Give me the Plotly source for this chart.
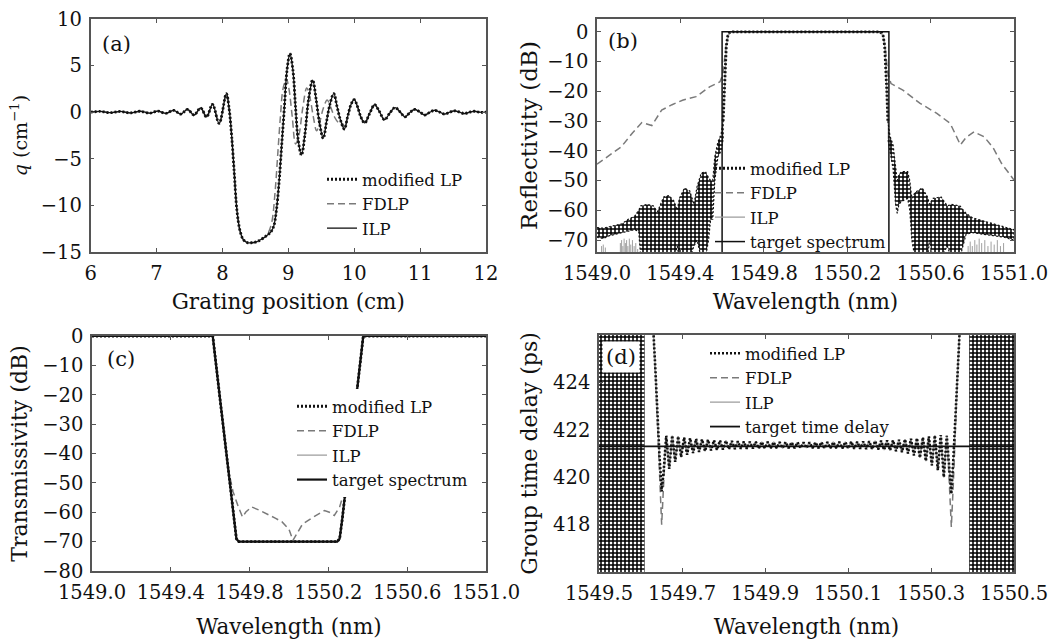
import numpy as np
import plotly.graph_objects as go

W, H = 1053, 639
FONT = "DejaVu Serif"

# ---------------- (a) coupling coefficient q(z) ----------------
qa_z = [6.0, 6.15, 6.3, 6.45, 6.6, 6.75, 6.9, 7.02, 7.14, 7.26, 7.37, 7.47, 7.57, 7.67, 7.76, 7.85, 7.95,
        8.06, 8.10, 8.14, 8.18, 8.22, 8.27, 8.32, 8.38, 8.45, 8.52, 8.60, 8.68, 8.74, 8.78, 8.82, 8.86,
        8.90, 8.94, 8.98, 9.025, 9.07, 9.11, 9.15, 9.20, 9.25, 9.31, 9.37, 9.42, 9.47, 9.53, 9.58, 9.63,
        9.69, 9.74, 9.79, 9.85, 9.90, 9.95, 10.0, 10.05, 10.10, 10.16, 10.23, 10.31, 10.38, 10.46, 10.54,
        10.62, 10.70, 10.77, 10.85, 10.92, 11.0, 11.07, 11.15, 11.22, 11.30, 11.37, 11.45, 11.52, 11.60,
        11.67, 11.75, 11.82, 11.90, 12.0]
qa_ilp = [0.0, 0.08, -0.05, 0.08, -0.08, 0.1, -0.1, 0.12, -0.12, 0.2, -0.2, 0.3, -0.3, 0.45, -0.5, 0.85, -1.2,
          2.0, 0.5, -2.5, -6.5, -10.5, -12.8, -13.7, -14.0, -14.0, -13.9, -13.6, -13.2, -12.8, -12.2, -10.5, -7.5,
          -3.5, 0.5, 4.5, 6.3, 4.5, 0.5, -3.0, -4.6, -2.5, 1.5, 3.45, 1.5, -1.0, -2.8, -1.0, 0.8,
          2.0, 0.6, -0.8, -1.8, -0.5, 0.8, 1.35, 0.6, -0.5, -1.15, -0.2, 0.8, 0.1, -0.8, -0.1,
          0.5, 0.0, -0.5, 0.0, 0.3, 0.0, -0.3, 0.0, 0.2, 0.0, -0.2, 0.0, 0.15, 0.0,
          -0.15, 0.0, 0.1, 0.0, 0.0]
# FDLP deviates from the others between 8.7 and 9.9 cm
qa_fdlp_mid_z = [8.70, 8.75, 8.80, 8.84, 8.88, 8.92, 8.97, 9.01, 9.06, 9.11, 9.16, 9.22, 9.28, 9.33, 9.38, 9.43,
                 9.48, 9.53, 9.59, 9.64, 9.70, 9.76, 9.82]
qa_fdlp_mid_q = [-12.9, -11.8, -8.5, -4.5, -0.5, 2.5, 3.6, 2.5, -0.5, -3.4, -2.5, 0.5, 2.6, 1.5, -0.5, -2.0,
                 -1.0, 0.4, 1.3, 0.6, -0.5, -1.1, -1.2]

# ---------------- (b) reflectivity ----------------
rb_band_wl = [1549.605, 1549.610, 1549.615, 1549.620, 1549.627, 1549.635, 1549.650, 1550.000,
              1550.350, 1550.365, 1550.373, 1550.380, 1550.385, 1550.390, 1550.395]
rb_band_db = [-30, -20, -11, -5, -1.5, -0.3, 0, 0, 0, -0.3, -1.5, -5, -11, -20, -30]
rb_left_wl = [1549.000, 1549.030, 1549.060, 1549.090, 1549.120, 1549.150, 1549.180, 1549.200, 1549.210,
              1549.240, 1549.270, 1549.290, 1549.300, 1549.320, 1549.345, 1549.370, 1549.385, 1549.395,
              1549.420, 1549.445, 1549.465, 1549.480, 1549.500, 1549.520, 1549.535, 1549.545, 1549.555,
              1549.565, 1549.580, 1549.595, 1549.605]
rb_left_up = [-65.8, -66.0, -65.5, -65.0, -64.5, -63.0, -62.0, -60.0, -58.5,
              -58.0, -58.5, -60.5, -59.0, -55.5, -55.0, -57.0, -60.0, -56.0,
              -52.5, -53.5, -58.0, -52.0, -47.5, -47.0, -49.0, -50.0, -50.0,
              -42.0, -37.0, -34.5, -30.0]
rb_left_lo = [-69.0, -69.5, -68.5, -68.0, -67.5, -67.0, -66.5, -67.0, -76,
              -76, -76, -76, -76, -76, -76, -76, -72, -76,
              -76, -76, -72, -70, -76, -76, -70, -63, -63,
              -50, -42, -40, -36]
rb_right_wl = [1550.395, 1550.405, 1550.420, 1550.432, 1550.440, 1550.448, 1550.460, 1550.490, 1550.500,
               1550.510, 1550.525, 1550.560, 1550.585, 1550.595, 1550.610, 1550.650, 1550.680, 1550.700,
               1550.740, 1550.770, 1550.800, 1550.850, 1550.900, 1550.950, 1551.000]
rb_right_up = [-30, -35, -38, -45, -50, -48, -47, -47, -50,
               -56, -54, -52.5, -55.5, -58, -56, -55.5, -58.5, -58,
               -58.5, -61, -62.5, -63.5, -64.5, -65.5, -66.5]
rb_right_lo = [-36, -40, -46, -58, -61, -58, -57, -56, -60,
               -70, -76, -76, -76, -70, -76, -76, -72, -76,
               -76, -68, -67.5, -68, -68.5, -69, -70]
rb_ilp_spike_wl = [1549.022, 1549.030, 1549.040, 1549.112, 1549.118, 1549.124, 1549.130, 1549.136,
                   1549.142, 1549.148, 1549.155, 1549.162, 1549.170, 1549.178, 1549.186, 1549.195,
                   1550.780, 1550.790, 1550.800, 1550.812, 1550.822, 1550.833, 1550.845, 1550.860,
                   1550.875, 1550.890, 1550.905, 1550.920, 1550.935, 1550.950]
rb_ilp_spike_top = [-72, -71.5, -72.5, -71, -70, -72, -69.5, -71, -70, -72, -69.5, -71.5, -70, -72, -71, -73,
                    -72, -70.5, -72, -70, -71.5, -69.5, -71, -70, -72, -70.5, -71.5, -70, -72, -71]
rb_fdlp_wl = [1549.0, 1549.06, 1549.117, 1549.17, 1549.215, 1549.263, 1549.31, 1549.36, 1549.41, 1549.475,
              1549.54, 1549.59, 1549.605, 1549.612, 1549.62, 1549.63, 1549.65, 1550.35, 1550.37, 1550.38,
              1550.388, 1550.395, 1550.41, 1550.467, 1550.548, 1550.63, 1550.694, 1550.72, 1550.743,
              1550.77, 1550.808, 1550.857, 1550.90, 1550.94, 1551.0]
rb_fdlp_db = [-44.5, -41.5, -38.6, -34.0, -30.5, -31.5, -26.3, -24.5, -23.0, -21.8,
              -18.5, -16.8, -14.0, -9.0, -4.0, -1.0, 0.0, 0.0, -1.0, -4.0,
              -9.0, -14.0, -17.4, -19.6, -24.0, -27.4, -30.8, -34.5, -38.0,
              -35.5, -33.6, -35.3, -39.0, -44.2, -49.8]
rb_target_wl = [1549.6, 1549.6, 1550.4, 1550.4]
rb_target_db = [-80, 0, 0, -80]

# ---------------- (c) transmissivity ----------------
tc_wl = [1549.0, 1549.613, 1549.65, 1549.69, 1549.72, 1549.733, 1549.745, 1549.8, 1549.9, 1550.0, 1550.1,
         1550.2, 1550.245, 1550.257, 1550.27, 1550.30, 1550.34, 1550.377, 1551.0]
tc_db = [0, 0, -21.5, -44.5, -61.5, -69, -70, -70, -70, -70, -70, -70, -70, -69, -62.5, -45, -21.5, 0, 0]
tc_fdlp_wl = [1549.0, 1549.613, 1549.65, 1549.69, 1549.70, 1549.716, 1549.742, 1549.764, 1549.781, 1549.81,
              1549.85, 1549.888, 1549.93, 1549.965, 1550.0, 1550.02, 1550.04, 1550.068, 1550.11, 1550.15,
              1550.18, 1550.205, 1550.23, 1550.257, 1550.282, 1550.30, 1550.34, 1550.377, 1551.0]
tc_fdlp_db = [0, 0, -21.5, -44.5, -48, -53, -58, -61.6, -59.9, -58.2,
              -59.3, -60.5, -62, -63.3, -65.8, -69.6, -67.3, -64.1, -62.2, -60.5,
              -59.4, -60, -61.1, -58.2, -52.6, -45, -21.5, 0, 0]

# ---------------- (d) group time delay ----------------
gd_target_ps = 421.3
gd_left_wl = [1549.620, 1549.630, 1549.636, 1549.641, 1549.646, 1549.651, 1549.656]
gd_left_mlp = [428.0, 426.5, 424.5, 422.5, 420.8, 419.4, 420.3]
gd_left_fdlp = [428.0, 426.5, 424.3, 422.0, 419.8, 418.0, 419.8]
gd_ripple_start, gd_ripple_end = 1549.662, 1550.338
gd_ripple_peaks = [421.75, 421.76, 421.72, 421.68, 421.65, 421.62, 421.60, 421.58, 421.56, 421.55, 421.54, 421.53,
                   421.52, 421.51, 421.50, 421.50, 421.49, 421.49, 421.48, 421.48, 421.48, 421.47, 421.47, 421.47,
                   421.47, 421.47, 421.48, 421.48, 421.48, 421.49, 421.49, 421.50, 421.50, 421.51, 421.52, 421.53,
                   421.54, 421.55, 421.56, 421.58, 421.60, 421.62, 421.65, 421.68, 421.72, 421.76, 421.78, 421.75]
gd_ripple_troughs = [420.35, 420.65, 420.85, 420.95, 421.02, 421.07, 421.10, 421.13, 421.15, 421.17, 421.18, 421.19,
                     421.20, 421.20, 421.21, 421.21, 421.22, 421.22, 421.22, 421.23, 421.23, 421.23, 421.23, 421.23,
                     421.23, 421.23, 421.22, 421.22, 421.22, 421.21, 421.21, 421.20, 421.20, 421.19, 421.18, 421.17,
                     421.15, 421.13, 421.10, 421.06, 421.00, 420.92, 420.82, 420.68, 420.50, 420.30, 420.00]
gd_right_wl = [1550.344, 1550.349, 1550.354, 1550.359, 1550.364, 1550.370, 1550.380]
gd_right_mlp = [420.3, 419.3, 420.8, 422.5, 424.5, 426.5, 428.0]
gd_right_fdlp = [419.8, 417.9, 419.8, 422.2, 424.3, 426.5, 428.0]
gd_noise_left = [1549.5, 1549.61]
gd_noise_right = [1550.392, 1550.5]

# axis ranges
a_xr, a_yr = [6, 12], [-15, 10]
b_xr, b_yr = [1549.0, 1551.0], [-74, 4.3]
c_xr, c_yr = [1549.0, 1551.0], [-80, 0]
d_xr, d_yr = [1549.5, 1550.5], [416, 426]

BLACK = "#111111"
GRAY_D = "#7a7a7a"
GRAY_S = "#a0a0a0"
DOT = "2px,2px"
DASH = "7px,4px"

fig = go.Figure()

def add(tr):
    fig.add_trace(tr)

# ---- panel (a)
fd_z = [z for z in qa_z if z < 8.70] + qa_fdlp_mid_z + [z for z in qa_z if z > 9.84]
fd_q = [q for z, q in zip(qa_z, qa_ilp) if z < 8.70] + qa_fdlp_mid_q + [q for z, q in zip(qa_z, qa_ilp) if z > 9.84]
add(go.Scatter(x=fd_z, y=fd_q, mode="lines", line=dict(color=GRAY_D, width=1.5, dash=DASH, shape="spline"),
               name="FDLP", legend="legend", legendrank=2, xaxis="x", yaxis="y"))
add(go.Scatter(x=qa_z, y=qa_ilp, mode="lines", line=dict(color=BLACK, width=1.3, shape="spline"),
               name="ILP", legend="legend", legendrank=3, xaxis="x", yaxis="y"))
add(go.Scatter(x=qa_z, y=qa_ilp, mode="lines", line=dict(color=BLACK, width=2.8, dash=DOT, shape="spline"),
               name="modified LP", legend="legend", legendrank=1, xaxis="x", yaxis="y"))

# ---- panel (b)
pat = dict(shape="+", fgcolor="black", bgcolor="white", size=4, solidity=0.62, fillmode="replace")
for wl, up, lo in [(rb_left_wl, rb_left_up, rb_left_lo), (rb_right_wl, rb_right_up, rb_right_lo)]:
    add(go.Scatter(x=list(wl) + list(wl)[::-1], y=list(up) + list(lo)[::-1], mode="lines", fill="toself",
                   fillpattern=pat, line=dict(color=BLACK, width=1.2, dash=DOT), showlegend=False,
                   hoverinfo="skip", xaxis="x2", yaxis="y2"))
sx, sy = [], []
for w, t in zip(rb_ilp_spike_wl, rb_ilp_spike_top):
    sx += [w, w, None]
    sy += [b_yr[0] - 2, t, None]
add(go.Scatter(x=sx, y=sy, mode="lines", line=dict(color=GRAY_S, width=1), showlegend=False,
               hoverinfo="skip", xaxis="x2", yaxis="y2"))
add(go.Scatter(x=rb_fdlp_wl, y=rb_fdlp_db, mode="lines", line=dict(color=GRAY_D, width=1.5, dash=DASH),
               name="FDLP", legend="legend2", legendrank=2, xaxis="x2", yaxis="y2"))
add(go.Scatter(x=rb_band_wl, y=rb_band_db, mode="lines", line=dict(color=GRAY_S, width=1.3),
               name="ILP", legend="legend2", legendrank=3, xaxis="x2", yaxis="y2"))
add(go.Scatter(x=rb_target_wl, y=rb_target_db, mode="lines", line=dict(color=BLACK, width=1.5),
               name="target spectrum", legend="legend2", legendrank=4, xaxis="x2", yaxis="y2"))
add(go.Scatter(x=rb_band_wl, y=rb_band_db, mode="lines", line=dict(color=BLACK, width=2.8, dash=DOT),
               name="modified LP", legend="legend2", legendrank=1, xaxis="x2", yaxis="y2"))

# ---- panel (c)
add(go.Scatter(x=tc_fdlp_wl, y=tc_fdlp_db, mode="lines", line=dict(color=GRAY_D, width=1.5, dash=DASH),
               name="FDLP", legend="legend3", legendrank=2, xaxis="x3", yaxis="y3"))
add(go.Scatter(x=tc_wl, y=tc_db, mode="lines", line=dict(color=GRAY_S, width=1.3),
               name="ILP", legend="legend3", legendrank=3, xaxis="x3", yaxis="y3"))
add(go.Scatter(x=tc_wl, y=tc_db, mode="lines", line=dict(color=BLACK, width=2.2),
               name="target spectrum", legend="legend3", legendrank=4, xaxis="x3", yaxis="y3"))
add(go.Scatter(x=tc_wl, y=tc_db, mode="lines", line=dict(color=BLACK, width=2.8, dash=DOT),
               name="modified LP", legend="legend3", legendrank=1, xaxis="x3", yaxis="y3"))

# ---- panel (d)
for lo_hi in (gd_noise_left, gd_noise_right):
    a, b = lo_hi
    add(go.Scatter(x=[a, b, b, a, a], y=[d_yr[0], d_yr[0], d_yr[1], d_yr[1], d_yr[0]], mode="lines",
                   fill="toself", fillpattern=pat, line=dict(width=0, color="black"), showlegend=False,
                   hoverinfo="skip", xaxis="x4", yaxis="y4"))
ripple = []
for p, t in zip(gd_ripple_peaks, gd_ripple_troughs):
    ripple += [p, t]
ripple += [gd_ripple_peaks[-1]]
ripple_wl = [float(v) for v in np.linspace(gd_ripple_start, gd_ripple_end, len(ripple))]
d_x = gd_left_wl + ripple_wl + gd_right_wl
d_mlp = gd_left_mlp + ripple + gd_right_mlp
d_fdlp = gd_left_fdlp + ripple + gd_right_fdlp
add(go.Scatter(x=d_x, y=d_fdlp, mode="lines", line=dict(color=GRAY_D, width=1.5, dash=DASH),
               name="FDLP", legend="legend4", legendrank=2, xaxis="x4", yaxis="y4"))
add(go.Scatter(x=d_x, y=d_mlp, mode="lines", line=dict(color=GRAY_S, width=1.3),
               name="ILP", legend="legend4", legendrank=3, xaxis="x4", yaxis="y4"))
add(go.Scatter(x=d_xr, y=[gd_target_ps, gd_target_ps], mode="lines", line=dict(color=BLACK, width=1.8),
               name="target time delay", legend="legend4", legendrank=4, xaxis="x4", yaxis="y4"))
add(go.Scatter(x=d_x, y=d_mlp, mode="lines", line=dict(color=BLACK, width=2.6, dash=DOT),
               name="modified LP", legend="legend4", legendrank=1, xaxis="x4", yaxis="y4"))

# ---------------- layout ----------------
def px_x(v):
    return v / W

def px_y(v):
    return 1 - v / H

tickfont = dict(family=FONT, size=19.5, color=BLACK)

def axis(domain, rng, title, anchor, tsize, standoff, **kw):
    d = dict(domain=domain, range=rng, anchor=anchor, automargin=False, showline=True, mirror="allticks",
             linecolor="#555555", linewidth=1.5, ticks="inside", ticklen=4, tickwidth=1.3, tickcolor="#555555",
             showgrid=False, zeroline=False, tickfont=tickfont, ticklabelstandoff=3,
             title=dict(text=title, font=dict(family=FONT, size=tsize, color=BLACK), standoff=standoff))
    d.update(kw)
    return d

xa = [px_x(90.6), px_x(486)]
xb = [px_x(597), px_x(1014)]
xc = [px_x(92), px_x(486)]
xd = [px_x(599), px_x(1014)]
ytop = [px_y(252), px_y(19)]
ybot_c = [px_y(571), px_y(336)]
ybot_d = [px_y(572), px_y(335)]

leg = dict(borderwidth=0, font=dict(family=FONT, size=16.5, color=BLACK), itemwidth=30,
           xanchor="left", yanchor="top", tracegroupgap=0, itemclick=False)

fig.update_layout(
    width=W, height=H, margin=dict(l=0, r=0, t=0, b=0), paper_bgcolor="white", plot_bgcolor="white",
    font=dict(family=FONT, color=BLACK),
    xaxis=axis(xa, a_xr, "Grating position (cm)", "y", 21.5, 10, dtick=1, tick0=6),
    yaxis=axis(ytop, a_yr, "<i>q</i> (cm<sup>−1</sup>)", "x", 19, 8, dtick=5, tick0=0),
    xaxis2=axis(xb, b_xr, "Wavelength (nm)", "y2", 21.5, 10, dtick=0.4, tick0=1549.0, tickformat=".1f"),
    yaxis2=axis(ytop, b_yr, "Reflectivity (dB)", "x2", 23, 3, dtick=10, tick0=0),
    xaxis3=axis(xc, c_xr, "Wavelength (nm)", "y3", 21.5, 17, dtick=0.4, tick0=1549.0, tickformat=".1f"),
    yaxis3=axis(ybot_c, c_yr, "Transmissivity (dB)", "x3", 22, 8, dtick=10, tick0=0),
    xaxis4=axis(xd, d_xr, "Wavelength (nm)", "y4", 21.5, 17, dtick=0.2, tick0=1549.5, tickformat=".1f"),
    yaxis4=axis(ybot_d, d_yr, "Group time delay (ps)", "x4", 22, 9, tickvals=[418, 420, 422, 424]),
    legend=dict(leg, bgcolor="white", x=px_x(322), y=px_y(162)),
    legend2=dict(leg, bgcolor="rgba(255,255,255,0)", x=px_x(710), y=px_y(151)),
    legend3=dict(leg, bgcolor="white", x=px_x(292), y=px_y(389)),
    legend4=dict(leg, bgcolor="rgba(255,255,255,0)", x=px_x(705), y=px_y(336)),
    showlegend=True,
)

labels = [("(a)", 116, 44), ("(b)", 623, 41), ("(c)", 121, 359), ("(d)", 621, 357)]
for txt, cx, cy in labels:
    fig.add_annotation(text=txt, x=px_x(cx), y=px_y(cy), xref="paper", yref="paper", showarrow=False,
                       xanchor="center", yanchor="middle", font=dict(family=FONT, size=21, color=BLACK),
                       bgcolor="white", borderpad=3)

fig.write_html("out.html", config={"displayModeBar": False},
               post_script="document.body.style.margin='0px';document.body.style.overflow='hidden';")
